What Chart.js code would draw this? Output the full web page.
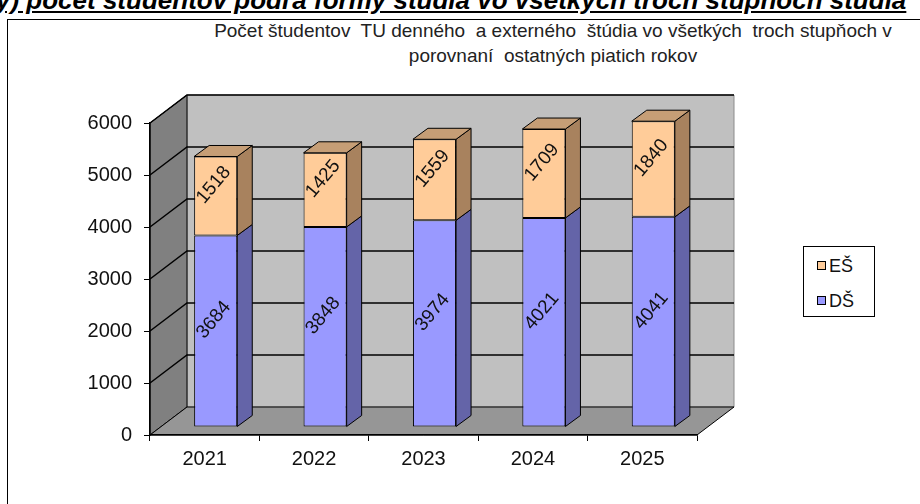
<!DOCTYPE html>
<html>
<head>
<meta charset="utf-8">
<script src="https://cdn.jsdelivr.net/npm/chart.js@4/dist/chart.umd.min.js"></script>
<style>
  html, body { margin: 0; padding: 0; background: #fff; }
  body { width: 920px; height: 504px; position: relative; overflow: hidden; font-family: "Liberation Sans", Arial, sans-serif; }
  #heading { position: absolute; left: -4px; top: -13px; white-space: nowrap; font-weight: bold; font-style: italic; font-size: 26px; line-height: 26px; text-decoration: underline; color: #000; }
  #frame { position: absolute; left: 7px; top: 19px; width: 940px; height: 520px; border-left: 1px solid #000; border-top: 1px solid #000; }
  #title { position: absolute; left: 195px; width: 716px; top: 18px; text-align: center; font-size: 19px; line-height: 25px; white-space: pre; color: #222; }
  #chart { position: absolute; left: 0; top: 0; }
  #legend { position: absolute; left: 803px; top: 246px; width: 70px; height: 69px; border: 1px solid #000; background: #fff; }
  .item { position: absolute; left: 13px; font-size: 18px; line-height: 20px; color: #111; }
  .item i { display: inline-block; width: 7px; height: 7px; border: 1.5px solid #000; margin-right: 3px; vertical-align: 2px; }
</style>
</head>
<body>
<div id="heading">ý) počet študentov podľa formy štúdia vo všetkých troch stupňoch štúdia</div>
<div id="frame"></div>
<div id="title">Počet študentov  TU denného  a externého  štúdia vo všetkých  troch stupňoch v
porovnaní  ostatných piatich rokov</div>
<canvas id="chart" width="920" height="504"></canvas>
<div id="legend"></div>
<script>
const years = ['2021', '2022', '2023', '2024', '2025'];
const seriesNames = ['DŠ', 'EŠ'];
const dsValues = [3684, 3848, 3974, 4021, 4041];
const esValues = [1518, 1425, 1559, 1709, 1840];
const yMin = 0, yMax = 6000, yStep = 1000;

// 3d look: back wall offset, bar offset, bar depth
const DX = 37, DY = -28;
const BX = 11, BY = -8;
const PX = 15, PY = -11;

const frontColors = ['#9999ff', '#ffcc99'];
const sideColors = ['#6464a8', '#a8825e'];
const topColor = '#c69e76';

function poly(ctx, pts, fill, stroke) {
  ctx.beginPath();
  ctx.moveTo(pts[0][0], pts[0][1]);
  for (let i = 1; i < pts.length; i++) ctx.lineTo(pts[i][0], pts[i][1]);
  ctx.closePath();
  if (fill) { ctx.fillStyle = fill; ctx.fill(); }
  if (stroke) { ctx.strokeStyle = stroke; ctx.stroke(); }
}

const threeD = {
  id: 'threeD',
  beforeDraw(chart) {
    const ctx = chart.ctx;
    const a = chart.chartArea;
    const y = chart.scales.y;
    ctx.save();
    ctx.lineWidth = 1;
    // back wall
    poly(ctx, [[a.left + DX, a.top + DY], [a.right + DX, a.top + DY], [a.right + DX, a.bottom + DY], [a.left + DX, a.bottom + DY]], '#c0c0c0', '#8c8c8c');
    // left wall
    poly(ctx, [[a.left, a.top], [a.left + DX, a.top + DY], [a.left + DX, a.bottom + DY], [a.left, a.bottom]], '#808080', '#000');
    // floor
    poly(ctx, [[a.left, a.bottom], [a.left + DX, a.bottom + DY], [a.right + DX, a.bottom + DY], [a.right, a.bottom]], '#969696', '#000');
    // gridlines
    ctx.strokeStyle = '#000';
    ctx.lineWidth = 1.5;
    y.ticks.forEach(t => {
      if (t.value === yMin) return;
      const py = y.getPixelForValue(t.value);
      ctx.beginPath();
      ctx.moveTo(a.left, py);
      ctx.lineTo(a.left + DX, py + DY);
      ctx.lineTo(a.right + DX, py + DY);
      ctx.stroke();
    });
    ctx.restore();
  },
  beforeDatasetsDraw(chart) {
    chart.ctx.save();
    chart.ctx.translate(BX, BY);
  },
  afterDatasetsDraw(chart) {
    const ctx = chart.ctx;
    const n = chart.data.datasets.length;
    ctx.lineWidth = 1;
    chart.data.datasets.forEach((ds, i) => {
      chart.getDatasetMeta(i).data.forEach(bar => {
        const p = bar.getProps(['x', 'y', 'base', 'width'], true);
        const l = p.x - p.width / 2, r = p.x + p.width / 2;
        poly(ctx, [[r, p.y], [r + PX, p.y + PY], [r + PX, p.base + PY], [r, p.base]], sideColors[i], '#000');
        if (i === n - 1) {
          poly(ctx, [[l, p.y], [l + PX, p.y + PY], [r + PX, p.y + PY], [r, p.y]], topColor, '#000');
        }
      });
    });
    // value labels, rotated
    ctx.fillStyle = '#111';
    ctx.font = '19px "Liberation Sans", Arial, sans-serif';
    ctx.textAlign = 'center';
    ctx.textBaseline = 'middle';
    chart.data.datasets.forEach((ds, i) => {
      chart.getDatasetMeta(i).data.forEach((bar, j) => {
        const p = bar.getProps(['x', 'y', 'base'], true);
        ctx.save();
        ctx.translate(p.x - 2, (p.y + p.base) / 2 - 11);
        ctx.rotate(-50 * Math.PI / 180);
        ctx.fillText(String(ds.data[j]), 0, 0);
        ctx.restore();
      });
    });
    ctx.restore();
  }
};

const chart = new Chart(document.getElementById('chart'), {
  type: 'bar',
  data: {
    labels: years,
    datasets: [
      { label: seriesNames[0], data: dsValues, backgroundColor: frontColors[0] },
      { label: seriesNames[1], data: esValues, backgroundColor: frontColors[1] }
    ]
  },
  options: {
    responsive: false,
    animation: false,
    events: [],
    layout: { padding: { left: 0, right: 223, top: 123, bottom: 29 } },
    datasets: {
      bar: { borderColor: '#000', borderWidth: 1, borderSkipped: false, barPercentage: 0.394, categoryPercentage: 1 }
    },
    plugins: { legend: { display: false }, title: { display: false }, tooltip: { enabled: false } },
    scales: {
      x: {
        stacked: true,
        afterFit(s) { s.height = 40; },
        grid: { offset: true, drawOnChartArea: false, drawTicks: true, tickLength: 6, color: '#000' },
        border: { display: true, color: '#000', width: 1.5 },
        ticks: { color: '#111', padding: 6, font: { family: '"Liberation Sans", Arial, sans-serif', size: 20 } }
      },
      y: {
        stacked: true,
        min: yMin,
        max: yMax,
        afterFit(s) { s.width = 150; },
        grid: { drawOnChartArea: false, drawTicks: true, tickLength: 6, color: '#000' },
        border: { display: true, color: '#000', width: 1.5 },
        ticks: {
          stepSize: yStep,
          color: '#111',
          padding: 12,
          font: { family: '"Liberation Sans", Arial, sans-serif', size: 20 },
          callback: v => String(v)
        }
      }
    }
  },
  plugins: [threeD]
});

// legend box, listed top series first
const legend = document.getElementById('legend');
chart.data.datasets.slice().reverse().forEach((ds, k) => {
  const it = document.createElement('div');
  it.className = 'item';
  it.style.top = (9 + k * 35) + 'px';
  it.innerHTML = '<i style="background:' + ds.backgroundColor + '"></i>' + ds.label;
  legend.appendChild(it);
});
</script>
</body>
</html>
